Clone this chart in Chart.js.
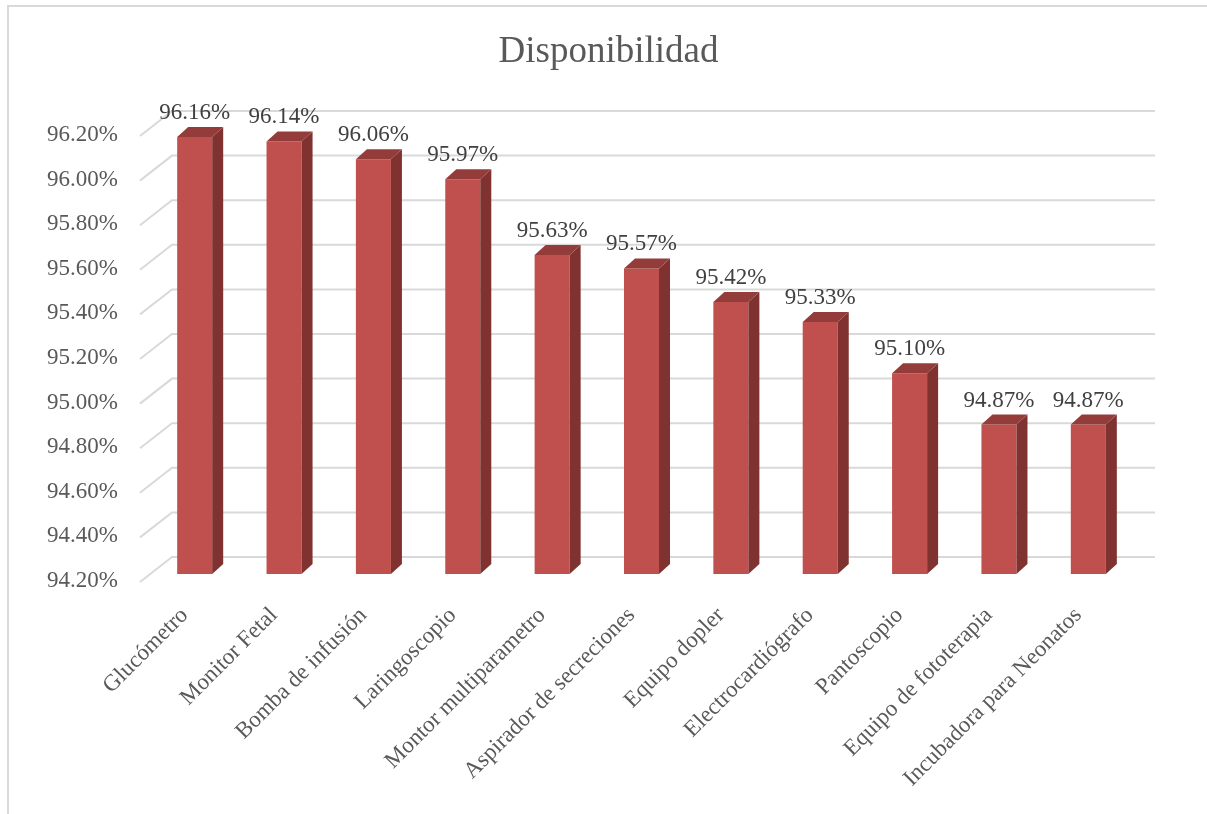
<!DOCTYPE html>
<html>
<head>
<meta charset="utf-8">
<script src="https://cdn.jsdelivr.net/npm/chart.js@4/dist/chart.umd.min.js"></script>
<style>
  body { margin: 0; background: #fff; overflow: hidden; }
  #frame { position: absolute; left: 7px; top: 5px; width: 1400px; height: 1000px;
           border-left: 2px solid #d9d9d9; border-top: 2px solid #d9d9d9; }
  #chart { position: absolute; left: 0; top: 0; }
</style>
</head>
<body>
<div id="frame"></div>
<canvas id="chart" width="1207" height="814"></canvas>
<script>
var equipos = ["Glucómetro", "Monitor Fetal", "Bomba de infusión", "Laringoscopio",
  "Montor multiparametro", "Aspirador de secreciones", "Equipo dopler",
  "Electrocardiógrafo", "Pantoscopio", "Equipo de fototerapia", "Incubadora para Neonatos"]
var disponibilidad = [96.16, 96.14, 96.06, 95.97, 95.63, 95.57, 95.42, 95.33, 95.10, 94.87, 94.87]
var yTicks = [94.2, 94.4, 94.6, 94.8, 95.0, 95.2, 95.4, 95.6, 95.8, 96.0, 96.2]

var FONT = "'Liberation Serif', 'Times New Roman', serif"

// fake 3D look: back wall grid, bar sides and tops, value labels
var depth3d = {
  id: "depth3d",
  beforeDatasetsDraw(chart) {
    var ctx = chart.ctx, area = chart.chartArea, y = chart.scales.y
    ctx.save()
    ctx.strokeStyle = "#d9d9d9"
    ctx.lineWidth = 2
    yTicks.forEach(function (v) {
      var py = y.getPixelForValue(v)
      ctx.beginPath()
      ctx.moveTo(area.left - 10, py + 8)
      ctx.lineTo(area.left + 22, py - 17)
      ctx.lineTo(area.right + 22, py - 17)
      ctx.stroke()
    })
    ctx.restore()
  },
  afterDatasetsDraw(chart) {
    var ctx = chart.ctx, area = chart.chartArea
    var dx = 11, dy = 10
    var meta = chart.getDatasetMeta(0)
    ctx.save()
    meta.data.forEach(function (bar, i) {
      var l = bar.x - bar.width / 2, r = bar.x + bar.width / 2
      var t = bar.y, b = Math.min(bar.base, area.bottom)
      ctx.fillStyle = "#7f3230"
      ctx.beginPath()
      ctx.moveTo(r, t); ctx.lineTo(r + dx, t - dy); ctx.lineTo(r + dx, b - dy); ctx.lineTo(r, b)
      ctx.closePath(); ctx.fill()
      ctx.fillStyle = "#943c39"
      ctx.beginPath()
      ctx.moveTo(l, t); ctx.lineTo(l + dx, t - dy); ctx.lineTo(r + dx, t - dy); ctx.lineTo(r, t)
      ctx.closePath(); ctx.fill()

      ctx.fillStyle = "#404040"
      ctx.font = "23px " + FONT
      ctx.textAlign = "center"
      ctx.textBaseline = "alphabetic"
      ctx.fillText(disponibilidad[i].toFixed(2) + "%", bar.x, t - 18)
    })
    ctx.restore()
  }
}

new Chart(document.getElementById("chart"), {
  type: "bar",
  plugins: [depth3d],
  data: {
    labels: equipos,
    datasets: [{
      data: disponibilidad,
      backgroundColor: "#c0504d",
      borderWidth: 0,
      barPercentage: 0.392,
      categoryPercentage: 1
    }]
  },
  options: {
    responsive: false,
    animation: false,
    layout: { padding: { top: 0, right: 0, left: 10, bottom: 0 } },
    plugins: {
      legend: { display: false },
      tooltip: { enabled: false },
      title: {
        display: true,
        text: "Disponibilidad",
        color: "#595959",
        font: { family: FONT, size: 37, weight: "normal" },
        padding: { top: 30, bottom: 53.6 }
      }
    },
    scales: {
      x: {
        grid: { display: false, drawTicks: false },
        border: { display: false },
        afterFit(scale) { scale.height = 240 },
        ticks: {
          autoSkip: false,
          minRotation: 45,
          maxRotation: 45,
          padding: 28,
          labelOffset: -10,
          color: "#595959",
          font: { family: FONT, size: 23 }
        }
      },
      y: {
        min: 94.2,
        max: 96.2,
        afterBuildTicks(scale) { scale.ticks = yTicks.map(function (v) { return { value: v } }) },
        afterFit(scale) { scale.width = 140 },
        grid: { display: false, drawTicks: false },
        border: { display: false },
        ticks: {
          padding: 32,
          labelOffset: 7,
          color: "#595959",
          font: { family: FONT, size: 23 },
          callback: function (v) { return Number(v).toFixed(2) + "%" }
        }
      },
      // empty right-hand spacer so the back wall has room
      spacer: {
        type: "linear",
        position: "right",
        afterFit(scale) { scale.width = 74 },
        grid: { display: false, drawTicks: false },
        border: { display: false },
        ticks: { display: false }
      }
    }
  }
})
</script>
</body>
</html>
